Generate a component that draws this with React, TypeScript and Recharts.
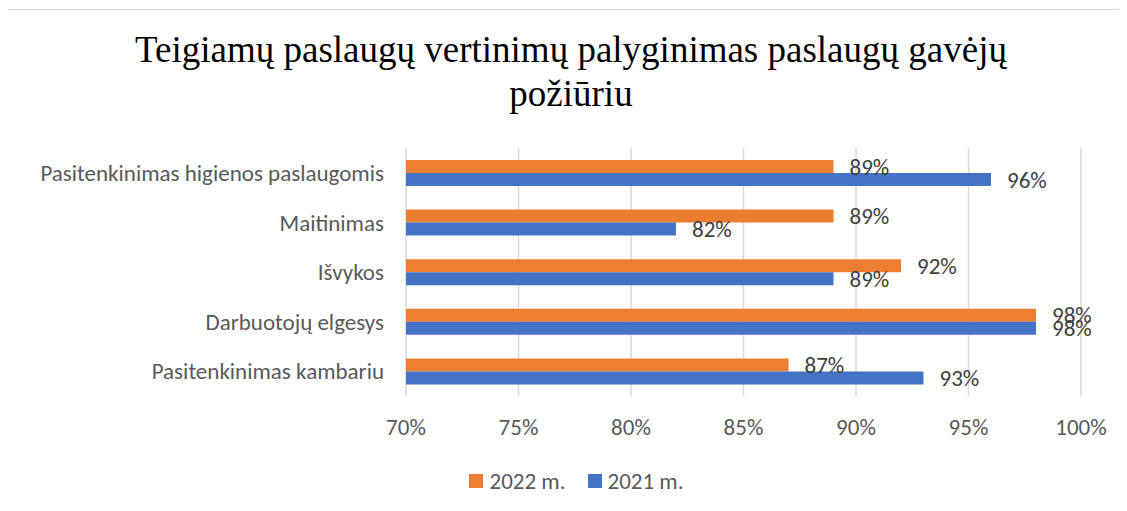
import React from 'react';
import {
  BarChart,
  Bar,
  XAxis,
  YAxis,
  CartesianGrid,
  Legend,
  LabelList,
} from 'recharts';

const categories = [
  'Pasitenkinimas higienos paslaugomis',
  'Maitinimas',
  'Išvykos',
  'Darbuotojų elgesys',
  'Pasitenkinimas kambariu',
];
const values2022 = [89, 89, 92, 98, 87];
const values2021 = [96, 82, 89, 98, 93];
const xTicks = [70, 75, 80, 85, 90, 95, 100];
const seriesNames = ['2022 m.', '2021 m.'];

const titleLines = ['Teigiamų paslaugų vertinimų palyginimas paslaugų gavėjų', 'požiūriu'];

const data = categories.map((name, i) => ({
  name,
  y2022: values2022[i],
  y2021: values2021[i],
}));

const sansFont = 'Calibri, Carlito, Lato, sans-serif';
const fontSize = 23;

// recharts reverses the legend for vertical layout, so keep the series order here
function LegendContent({ payload }: any) {
  const items = [...(payload || [])].sort(
    (a: any, b: any) => seriesNames.indexOf(a.value) - seriesNames.indexOf(b.value)
  );
  return (
    <div
      style={{
        display: 'flex',
        justifyContent: 'center',
        height: 24,
        alignItems: 'center',
        paddingLeft: 64,
        fontFamily: sansFont,
        fontSize,
        color: '#595959',
      }}
    >
      {items.map((p: any) => (
        <div key={p.value} style={{ display: 'flex', alignItems: 'center', margin: '0 11px' }}>
          <span
            style={{ width: 14, height: 14, background: p.color, display: 'inline-block', marginRight: 6 }}
          />
          <span>{p.value}</span>
        </div>
      ))}
    </div>
  );
}

export default function App() {
  return (
    <div
      style={{
        position: 'relative',
        left: -1,
        top: 1,
        width: 1130,
        height: 510,
        border: '1px solid #d9d9d9',
        boxSizing: 'border-box',
        background: '#fff',
      }}
    >
      <div
        style={{
          position: 'absolute',
          top: 18,
          left: 0,
          width: 1126,
          textAlign: 'center',
          fontFamily: '"Times New Roman", "Liberation Serif", serif',
          fontSize: 37,
          lineHeight: '44px',
          color: '#000',
        }}
      >
        {titleLines.map((t) => (
          <div key={t}>{t}</div>
        ))}
      </div>
      <BarChart
        width={1118}
        height={500}
        data={data}
        layout="vertical"
        margin={{ top: 138, right: 45, bottom: 17, left: 0 }}
        barGap={0}
        barSize={13}
      >
        <CartesianGrid horizontal={false} stroke="#d9d9d9" strokeWidth={1.5} />
        <XAxis
          type="number"
          domain={[70, 100]}
          ticks={xTicks}
          tickFormatter={(v: number) => `${v}%`}
          axisLine={false}
          tickLine={false}
          tickSize={0}
          tickMargin={23}
          height={73}
          tick={{ fill: '#595959', fontSize, fontFamily: sansFont }}
        />
        <YAxis
          type="category"
          dataKey="name"
          width={398}
          axisLine={false}
          tickLine={false}
          tickSize={0}
          tickMargin={22}
          tick={{ fill: '#595959', fontSize, fontFamily: sansFont }}
        />
        <Legend verticalAlign="bottom" content={<LegendContent />} />
        <Bar dataKey="y2022" name={seriesNames[0]} fill="#ED7D31" isAnimationActive={false}>
          <LabelList
            dataKey="y2022"
            position="right"
            offset={16}
            formatter={(v: any) => `${v}%`}
            style={{ fill: '#404040', fontSize, fontFamily: sansFont }}
          />
        </Bar>
        <Bar dataKey="y2021" name={seriesNames[1]} fill="#4472C4" isAnimationActive={false}>
          <LabelList
            dataKey="y2021"
            position="right"
            offset={16}
            formatter={(v: any) => `${v}%`}
            style={{ fill: '#404040', fontSize, fontFamily: sansFont }}
          />
        </Bar>
      </BarChart>
    </div>
  );
}
